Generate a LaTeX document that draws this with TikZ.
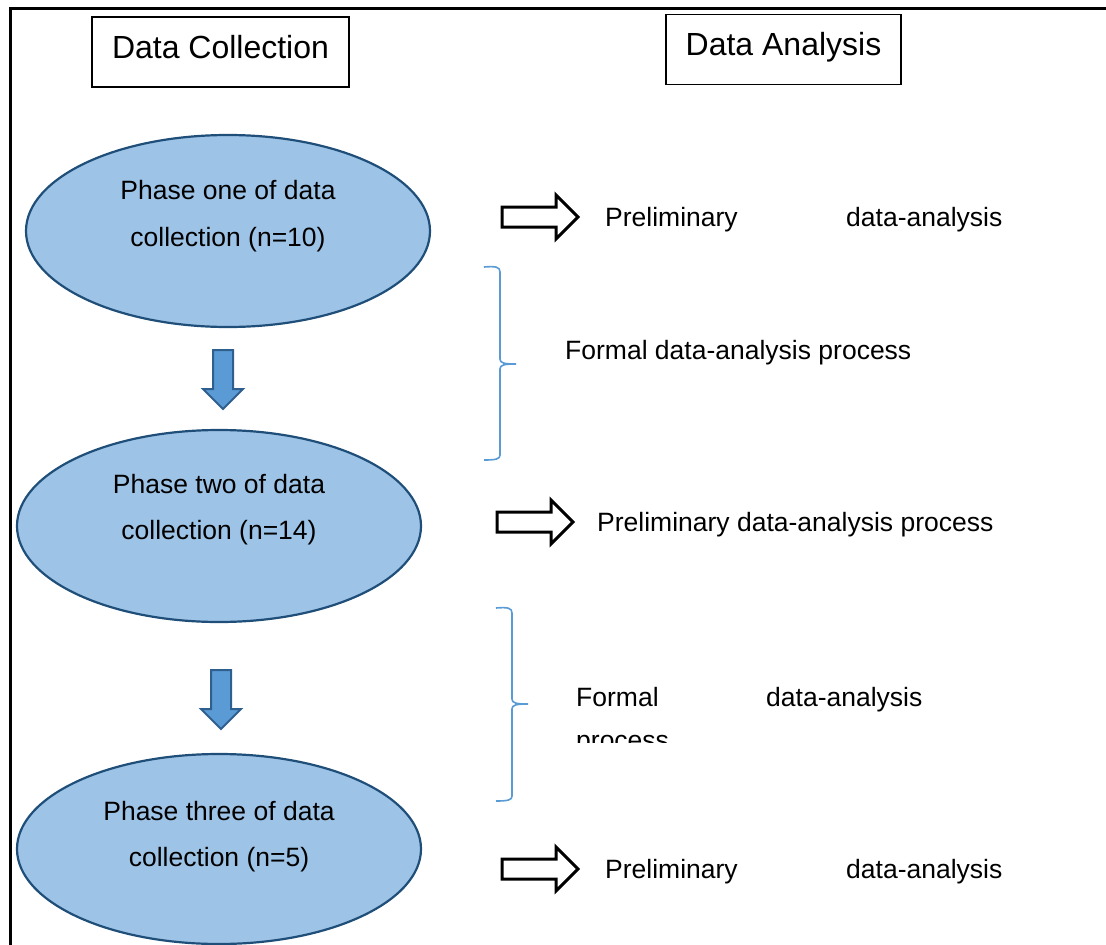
\documentclass[tikz,border=0pt]{standalone}
\usepackage{fontspec}
\setmainfont{Liberation Sans}
\usetikzlibrary{shapes.geometric}

\definecolor{phasefill}{HTML}{9DC3E6}
\definecolor{phaseedge}{HTML}{1F4E79}
\definecolor{stepfill}{HTML}{5B9BD5}
\definecolor{stepedge}{HTML}{2E5F8E}
\definecolor{bracecol}{HTML}{5B9BD5}

\tikzset{
  x=1pt, y=-1pt,
  txt/.style={font=\fontsize{26.5}{30}\selectfont, inner sep=0pt},
  headtxt/.style={font=\fontsize{32}{36}\selectfont, inner sep=0pt},
  headbox/.style={draw=black, line width=1.3pt, minimum height=70pt, inner sep=0pt},
  phase/.style={ellipse, draw=phaseedge, line width=2.2pt, fill=phasefill,
    minimum width=404pt, minimum height=192pt, inner sep=0pt},
  hollow/.style={draw=black, line width=3pt, fill=white, line join=miter},
  downstep/.style={draw=stepedge, line width=2pt, fill=stepfill, line join=miter},
  bracket/.style={draw=bracecol, line width=1.6pt},
  % hollow right-pointing block arrow
  rarrow/.pic={\draw[hollow] (0,-10) -- (54,-10) -- (54,-22) -- (76,0) -- (54,22)
      -- (54,10) -- (0,10) -- cycle;},
  % filled downward block arrow
  darrow/.pic={\draw[downstep] (-10,0) -- (10,0) -- (10,39) -- (20,39) -- (0,59)
      -- (-20,39) -- (-10,39) -- cycle;},
}

\begin{document}
\begin{tikzpicture}
\useasboundingbox (0,0) rectangle (1106,945);

% outer frame (top and left edges)
\draw[line width=3pt] (10,945) -- (10,8) -- (1106,8);

% column headings
\node[headbox, minimum width=257pt] (hcol) at (220.5,52) {};
\node[headtxt, anchor=base] (hcoltxt) at (220.5,58.5) {Data Collection};
\node[headbox, minimum width=235pt] (hana) at (783.5,49.5) {};
\node[headtxt, anchor=base] (hanatxt) at (783.5,55.5) {Data Analysis};

% collection phases
\node[phase] (p1) at (228,231) {};
\node[txt, anchor=base] (p1a) at (228,199) {Phase one of data};
\node[txt, anchor=base] (p1b) at (228,246) {collection (n=10)};

\node[phase] (p2) at (219,526) {};
\node[txt, anchor=base] (p2a) at (219,493) {Phase two of data};
\node[txt, anchor=base] (p2b) at (219,539) {collection (n=14)};

\node[phase, minimum height=190pt] (p3) at (219,849) {};
\node[txt, anchor=base] (p3a) at (219,820) {Phase three of data};
\node[txt, anchor=base] (p3b) at (219,866) {collection (n=5)};

% steps between phases
\pic at (223,350) {darrow};
\pic at (221,670) {darrow};

% arrows to preliminary analysis
\pic at (502,217) {rarrow};
\pic at (497,522) {rarrow};
\pic at (502,869) {rarrow};

% analysis texts
\node[txt, anchor=base west] (a1a) at (605,226) {Preliminary};
\node[txt, anchor=base west] (a1b) at (846,226) {data-analysis};

\node[txt, anchor=base west] (f1) at (565,359) {Formal data-analysis process};

\node[txt, anchor=base west] (a2) at (597,531) {Preliminary data-analysis process};

\node[txt, anchor=base west] (f2a) at (576,706) {Formal};
\node[txt, anchor=base west] (f2b) at (766,706) {data-analysis};
\begin{scope}
  \clip (560,720) rectangle (760,742);
  \node[txt, anchor=base west] (f2c) at (576,749) {process};
\end{scope}

\node[txt, anchor=base west] (a3a) at (605,878) {Preliminary};
\node[txt, anchor=base west] (a3b) at (846,878) {data-analysis};

% braces spanning the formal analysis stages
\draw[bracket] (484,267) .. controls (496,266) and (500,267) .. (500,272)
  -- (500,359) .. controls (500,363) and (504,364) .. (516,364)
  .. controls (504,364) and (500,365) .. (500,369)
  -- (500,455) .. controls (500,459) and (496,460) .. (484,460);
\draw[bracket] (496,608) .. controls (508,607) and (512,608) .. (512,613)
  -- (512,699) .. controls (512,703) and (516,704) .. (528,704)
  .. controls (516,704) and (512,705) .. (512,709)
  -- (512,796) .. controls (512,800) and (508,801) .. (496,801);
\end{tikzpicture}
\end{document}
